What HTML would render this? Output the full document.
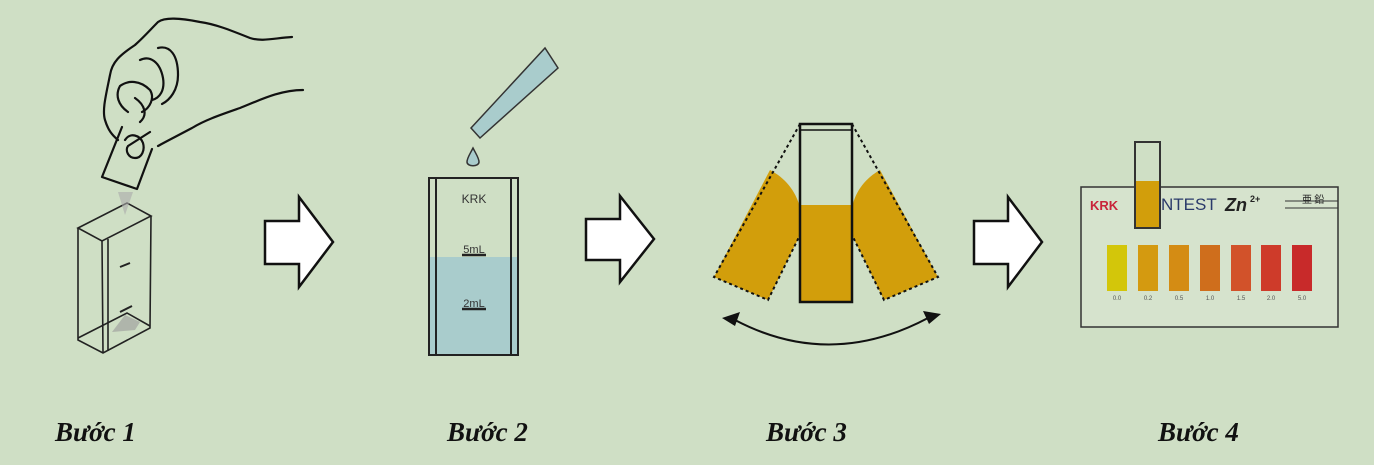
<!DOCTYPE html>
<html><head><meta charset="utf-8"><style>
html,body{margin:0;padding:0;background:#cfdfc5;}
svg{display:block}
</style></head><body>
<svg width="1374" height="465" viewBox="0 0 1374 465" xmlns="http://www.w3.org/2000/svg">
<rect width="1374" height="465" fill="#cfdfc5"/>
<!-- Step 1 hand -->
<g fill="none" stroke="#111" stroke-width="2.2" stroke-linecap="round" stroke-linejoin="round">
<path d="M292,37 C275,38 262,42 250,38 C230,30 215,24 200,22 C180,18 165,17 158,22 C150,30 145,36 135,45 C120,55 112,62 110,75 C106,95 102,110 105,120 C108,130 112,135 118,140"/>
<path d="M303,90 C280,90 260,100 240,108 C220,115 205,120 192,128 C175,137 165,142 158,146"/>
<path d="M122,127 L102,177 L137,189 L152,149"/>
<path d="M125,140 C130,132 140,135 143,143 C145,150 142,158 135,158 C128,158 125,150 128,146 L150,132"/>
<path d="M120,86 C128,80 140,80 150,90 C155,98 150,108 142,112 M140,60 C150,55 160,62 163,78 C165,90 160,98 152,100 M128,112 C118,105 115,95 120,86 M135,98 C145,105 148,115 140,122 M158,48 C170,45 178,55 178,75 C178,90 170,100 162,104"/>
</g>
<!-- beaker 1 -->
<g fill="none" stroke="#222" stroke-width="1.6">
<path d="M78,228 L127,203 L151,216 L102,241 Z"/>
<path d="M78,228 L78,340 L103,353 L150,328 L151,216"/>
<path d="M102,241 L103,353 M108,239 L108,351"/>
<path d="M78,338 L127,313 L150,326"/>
</g>
<path d="M112,332 L125,315 L140,322 L135,330 Z" fill="#999" opacity="0.6"/>
<path d="M118,192 L125,215 L133,192 Z" fill="#aaa" opacity="0.6"/>
<path d="M120,267 L130,263 M120,312 L132,306" stroke="#222" stroke-width="2"/>
<!-- arrows -->
<g fill="#fff" stroke="#111" stroke-width="2.5" stroke-linejoin="miter">
<path d="M265,221 L299,221 L299,197 L333,242 L299,287 L299,264 L265,264 Z"/>
<path d="M586,219 L620,219 L620,196 L654,239 L620,282 L620,260 L586,260 Z"/>
<path d="M974,221 L1008,221 L1008,197 L1042,242 L1008,287 L1008,264 L974,264 Z"/>
</g>
<!-- Step 2 -->
<path d="M471,128 L545,48 L558,68 L480,138 Z" fill="#a9cccc" stroke="#333" stroke-width="1.5"/>
<path d="M473,148 C470,154 467,158 467,162 C467,167 479,167 479,162 C479,158 476,154 473,148 Z" fill="#a9cccc" stroke="#333" stroke-width="1.5"/>
<rect x="429" y="257" width="88" height="98" fill="#a9cccc"/>
<g fill="none" stroke="#222" stroke-width="2">
<path d="M429,178 L429,355 L518,355 L518,178 Z"/>
<path d="M436,178 L436,355 M511,178 L511,355"/>
</g>
<text x="474" y="203" font-family="Liberation Sans,sans-serif" font-size="12" text-anchor="middle" fill="#333">KRK</text>
<text x="474" y="253" font-family="Liberation Sans,sans-serif" font-size="11" text-anchor="middle" fill="#333">5mL</text>
<line x1="462" y1="255" x2="486" y2="255" stroke="#222" stroke-width="2.5"/>
<text x="474" y="307" font-family="Liberation Sans,sans-serif" font-size="11" text-anchor="middle" fill="#333">2mL</text>
<line x1="462" y1="309" x2="486" y2="309" stroke="#222" stroke-width="2.5"/>
<!-- Step 3 -->
<path d="M770,170 C785,178 795,190 800,207 L800,235 L768,300 L714,277 Z" fill="#d29e0b"/>
<path d="M880,170 C866,178 856,190 852,207 L852,235 L884,300 L938,277 Z" fill="#d29e0b"/>
<g fill="none" stroke="#111" stroke-width="2" stroke-dasharray="3,3">
<path d="M800,124 L714,277 L768,300 L800,235"/>
<path d="M852,124 L938,277 L884,300 L852,235"/>
</g>
<rect x="800" y="205" width="52" height="97" fill="#d29e0b"/>
<rect x="800" y="124" width="52" height="178" fill="none" stroke="#111" stroke-width="2.5"/>
<line x1="800" y1="130" x2="852" y2="130" stroke="#111" stroke-width="1.5"/>
<path d="M735,320 Q830,370 928,318" fill="none" stroke="#111" stroke-width="2"/>
<path d="M722,318 L740,312 L735,326 Z" fill="#111"/>
<path d="M941,314 L923,311 L929,324 Z" fill="#111"/>
<!-- Step 4 card -->
<rect x="1081" y="187" width="257" height="140" fill="#d6e3cd" stroke="#333" stroke-width="1.5"/>
<text x="1090" y="210" font-family="Liberation Sans,sans-serif" font-size="13" font-weight="bold" fill="#c8243a">KRK</text>
<text x="1161" y="210" font-family="Liberation Sans,sans-serif" font-size="17" fill="#2a3a6a">NTEST</text>
<text x="1225" y="211" font-family="Liberation Sans,sans-serif" font-size="18" font-weight="bold" font-style="italic" fill="#222">Zn</text>
<text x="1250" y="202" font-family="Liberation Sans,sans-serif" font-size="9" font-weight="bold" fill="#222">2+</text>
<text x="1302" y="203" font-family="Noto Sans CJK JP,sans-serif" font-size="10" fill="#222">亜 鉛</text>
<line x1="1285" y1="201" x2="1338" y2="201" stroke="#333"/>
<line x1="1285" y1="208" x2="1338" y2="208" stroke="#333"/>
<g>
<rect x="1107" y="245" width="20" height="46" fill="#d3c60a"/>
<rect x="1138" y="245" width="20" height="46" fill="#d49a10"/>
<rect x="1169" y="245" width="20" height="46" fill="#d48c14"/>
<rect x="1200" y="245" width="20" height="46" fill="#cf6e1c"/>
<rect x="1231" y="245" width="20" height="46" fill="#d2522a"/>
<rect x="1261" y="245" width="20" height="46" fill="#ce3b2a"/>
<rect x="1292" y="245" width="20" height="46" fill="#c82a2a"/>
</g>
<g font-family="Liberation Sans,sans-serif" font-size="6" fill="#555" text-anchor="middle">
<text x="1117" y="300">0.0</text><text x="1148" y="300">0.2</text><text x="1179" y="300">0.5</text><text x="1210" y="300">1.0</text><text x="1241" y="300">1.5</text><text x="1271" y="300">2.0</text><text x="1302" y="300">5.0</text>
</g>
<rect x="1135" y="142" width="25" height="86" fill="#cfdfc5"/>
<rect x="1135" y="181" width="25" height="47" fill="#d29e0b"/>
<rect x="1135" y="142" width="25" height="86" fill="none" stroke="#333" stroke-width="2"/>
<!-- labels -->
<g font-family="Liberation Serif,serif" font-size="27" font-weight="bold" font-style="italic" fill="#111">
<text x="55" y="441">Bước 1</text>
<text x="447" y="441">Bước 2</text>
<text x="766" y="441">Bước 3</text>
<text x="1158" y="441">Bước 4</text>
</g>
</svg>
</body></html>
